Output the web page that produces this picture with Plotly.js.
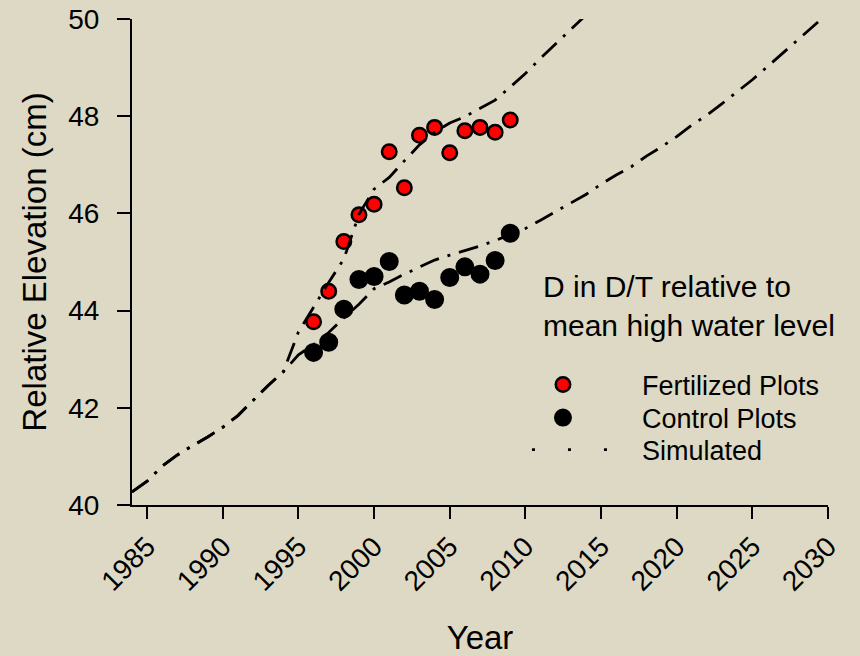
<!DOCTYPE html>
<html>
<head>
<meta charset="utf-8">
<script src="https://cdn.plot.ly/plotly-3.0.1.min.js"></script>
<style>
  html, body { margin: 0; padding: 0; background: #DDD9C4; }
  #chart { width: 860px; height: 656px; }
</style>
</head>
<body>
<div id="chart"></div>
<script>
// Measured plot elevations (cm) relative to mean high water
const plotYears = [1996, 1997, 1998, 1999, 2000, 2001, 2002, 2003, 2004, 2005, 2006, 2007, 2008, 2009];
const fertilized = [43.77, 44.40, 45.42, 45.97, 46.19, 47.27, 46.53, 47.61, 47.77, 47.25, 47.70, 47.77, 47.67, 47.92];
const control = [43.14, 43.35, 44.03, 44.64, 44.70, 45.01, 44.32, 44.40, 44.23, 44.68, 44.90, 44.75, 45.03, 45.59];

// Simulated elevation trajectories
const simFertYears = [1984, 1985, 1986, 1987, 1988, 1989, 1990, 1991, 1992, 1993, 1994,
  1995, 1996, 1997, 1998, 1999, 2000, 2001, 2002, 2003, 2004, 2005, 2006, 2007, 2008,
  2009, 2010, 2011, 2012, 2013, 2014];
const simFert = [40.27, 40.49, 40.80, 41.03, 41.22, 41.40, 41.60, 41.84, 42.15, 42.46, 42.74,
  43.56, 44.07, 44.58, 45.06, 45.98, 46.50, 46.74, 47.08, 47.41, 47.67, 47.86, 47.99, 48.16, 48.33,
  48.60, 48.88, 49.19, 49.48, 49.77, 50.08];

const simCtrlYears = [1984, 1985, 1986, 1987, 1988, 1989, 1990, 1991, 1992, 1993, 1994,
  1995, 1996, 1997, 1998, 1999, 2000, 2001, 2002, 2003, 2004, 2005, 2006, 2007, 2008,
  2009, 2010, 2011, 2012, 2013, 2014, 2015, 2016, 2017, 2018, 2019, 2020, 2021, 2022,
  2023, 2024, 2025, 2026, 2027, 2028, 2029, 2030];
const simCtrl = [40.27, 40.49, 40.80, 41.03, 41.22, 41.40, 41.60, 41.84, 42.15, 42.46, 42.74,
  43.09, 43.30, 43.55, 43.85, 44.13, 44.45, 44.59, 44.75, 44.90, 45.04, 45.14, 45.23, 45.33, 45.44,
  45.56, 45.69, 45.86, 46.04, 46.22, 46.39, 46.60, 46.79, 46.96, 47.18, 47.37, 47.58, 47.82, 48.02,
  48.26, 48.50, 48.75, 49.02, 49.30, 49.57, 49.84, 50.12];

const seriesNames = ['Fertilized Plots', 'Control Plots', 'Simulated'];
const legendNote = 'D in D/T relative to<br>mean high water level';

const FONT = 'Liberation Sans, Arial, sans-serif';
const BG = '#DDD9C4';
const simDash = '20px,9px,3px,9px';

const traces = [
  {
    x: plotYears, y: fertilized, name: seriesNames[0], legend: 'legend',
    type: 'scatter', mode: 'markers',
    marker: { color: '#FF0000', size: 14.5, line: { color: '#000000', width: 2.5 } }
  },
  {
    x: plotYears, y: control, name: seriesNames[1], legend: 'legend2',
    type: 'scatter', mode: 'markers',
    marker: { color: '#000000', size: 17, line: { color: '#000000', width: 2 } }
  },
  {
    x: simFertYears, y: simFert, name: seriesNames[2], showlegend: false,
    type: 'scatter', mode: 'lines',
    line: { color: '#000000', width: 2.8, dash: simDash }
  },
  {
    x: simCtrlYears, y: simCtrl, name: seriesNames[2], showlegend: false,
    type: 'scatter', mode: 'lines',
    line: { color: '#000000', width: 2.8, dash: simDash }
  },
  {
    // legend key for the simulated curves
    x: [null], y: [null], name: seriesNames[2], legend: 'legend3',
    type: 'scatter', mode: 'lines',
    line: { color: '#000000', width: 2.8, dash: '0px,43px,3px,33px,3px,33px,3px,200px' }
  }
];

const legendBase = {
  xanchor: 'left', yanchor: 'middle', x: 0.5057,
  bgcolor: 'rgba(0,0,0,0)', borderwidth: 0,
  itemwidth: 148, font: { family: FONT, size: 27, color: '#000000' }
};

const layout = {
  width: 860, height: 656,
  paper_bgcolor: BG, plot_bgcolor: BG,
  margin: { l: 132, r: 32, t: 19, b: 151 },
  font: { family: FONT, color: '#000000' },
  showlegend: true,
  legend: Object.assign({}, legendBase, { y: 0.2469 }),
  legend2: Object.assign({}, legendBase, { y: 0.1790 }),
  legend3: Object.assign({}, legendBase, { y: 0.1132 }),
  xaxis: {
    range: [1984, 2030], tick0: 1985, dtick: 5,
    showgrid: false, zeroline: false,
    showline: true, linecolor: '#000000', linewidth: 2,
    ticks: 'outside', ticklen: 12, tickwidth: 2, tickcolor: '#000000',
    tickangle: -45, tickfont: { family: FONT, size: 28, color: '#000000' },
    title: { text: 'Year', font: { family: FONT, size: 33, color: '#000000' }, standoff: 43 }
  },
  yaxis: {
    range: [40, 50], tick0: 40, dtick: 2,
    showgrid: false, zeroline: false,
    showline: true, linecolor: '#000000', linewidth: 2,
    ticks: 'outside', ticklen: 13, tickwidth: 2, tickcolor: '#000000',
    ticklabelstandoff: 12,
    tickfont: { family: FONT, size: 28, color: '#000000' },
    title: { text: 'Relative Elevation (cm)', font: { family: FONT, size: 33, color: '#000000' }, standoff: 12 }
  },
  annotations: [{
    xref: 'paper', yref: 'paper', x: 0.5876, y: 0.4095,
    xanchor: 'left', yanchor: 'middle', align: 'left', showarrow: false,
    text: legendNote, font: { family: FONT, size: 30, color: '#000000' }
  }]
};

Plotly.newPlot('chart', traces, layout, { displayModeBar: false, staticPlot: true });
</script>
</body>
</html>
